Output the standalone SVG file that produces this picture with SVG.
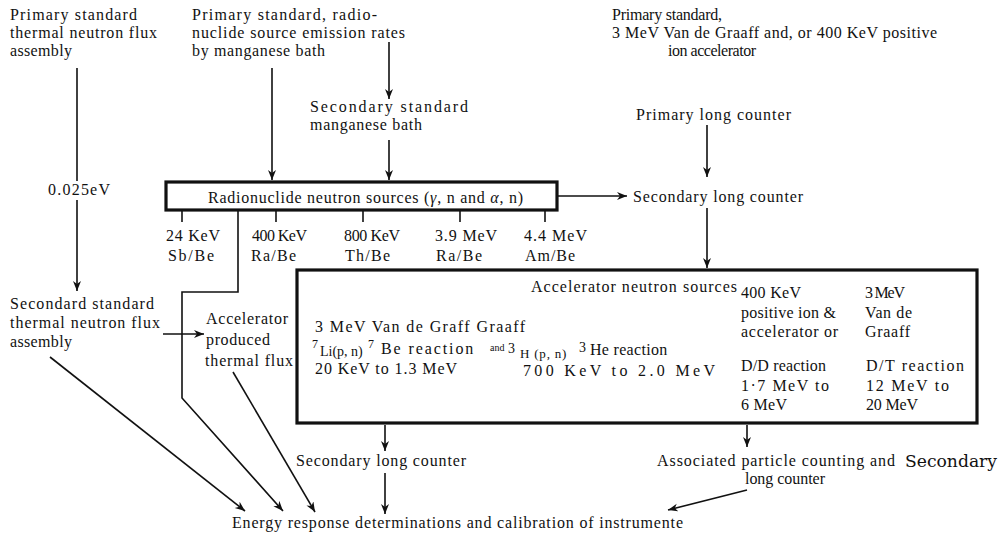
<svg xmlns="http://www.w3.org/2000/svg" width="1003" height="535" viewBox="0 0 1003 535">
<style>
text{font-family:'Liberation Serif','DejaVu Serif',serif;font-size:16px;fill:#111}
.ln{stroke:#111;stroke-width:1.6;fill:none}
.box{stroke:#111;stroke-width:3.2;fill:none}
.big{font-family:'DejaVu Serif',serif;font-size:16px}
.sup{font-size:12px}
</style>
<defs>
<marker id="ah" markerUnits="userSpaceOnUse" markerWidth="12" markerHeight="10" refX="10" refY="4" orient="auto">
<path d="M0,0 L10,4 L0,8 L3,4 Z" fill="#111"/>
</marker>
</defs>
<rect width="1003" height="535" fill="#fff"/>

<g id="connectors">
<line class="ln" x1="77" y1="68" x2="77" y2="181"/>
<line class="ln" x1="77" y1="200" x2="77" y2="291" marker-end="url(#ah)"/>
<line class="ln" x1="272" y1="68" x2="272" y2="180" marker-end="url(#ah)"/>
<line class="ln" x1="389" y1="42" x2="389" y2="99" marker-end="url(#ah)"/>
<line class="ln" x1="389" y1="140" x2="389" y2="180" marker-end="url(#ah)"/>
<line class="ln" x1="707" y1="125" x2="707" y2="177" marker-end="url(#ah)"/>
<line class="ln" x1="557" y1="196" x2="627" y2="196" marker-end="url(#ah)"/>
<line class="ln" x1="707" y1="208" x2="707" y2="268" marker-end="url(#ah)"/>
<line class="ln" x1="182" y1="211" x2="182" y2="222"/>
<line class="ln" x1="276" y1="211" x2="276" y2="222"/>
<line class="ln" x1="363" y1="211" x2="363" y2="222"/>
<line class="ln" x1="460" y1="211" x2="460" y2="222"/>
<line class="ln" x1="545" y1="211" x2="545" y2="222"/>
<polyline class="ln" points="238,211 238,292 182,292 182,398 283,511" marker-end="url(#ah)"/>
<line class="ln" x1="163" y1="334" x2="204" y2="334" marker-end="url(#ah)"/>
<line class="ln" x1="50" y1="357" x2="245" y2="511" marker-end="url(#ah)"/>
<line class="ln" x1="233" y1="372" x2="315" y2="512" marker-end="url(#ah)"/>
<line class="ln" x1="385" y1="425" x2="385" y2="451" marker-end="url(#ah)"/>
<line class="ln" x1="385" y1="473" x2="385" y2="514" marker-end="url(#ah)"/>
<line class="ln" x1="747" y1="425" x2="747" y2="447" marker-end="url(#ah)"/>
<line class="ln" x1="747" y1="490" x2="668" y2="510" marker-end="url(#ah)"/>
</g>

<g id="n-primary-thermal">
<text x="10" y="20" textLength="127" lengthAdjust="spacing">Primary standard</text>
<text x="10" y="38" textLength="147" lengthAdjust="spacing">thermal neutron flux</text>
<text x="10" y="56" textLength="62" lengthAdjust="spacing">assembly</text>
</g>

<g id="n-primary-radionuclide">
<text x="192" y="20" textLength="185" lengthAdjust="spacing">Primary standard, radio-</text>
<text x="192" y="38" textLength="213" lengthAdjust="spacing">nuclide source emission rates</text>
<text x="192" y="56" textLength="133" lengthAdjust="spacing">by manganese bath</text>
</g>

<g id="n-secondary-mn">
<text x="310" y="112" textLength="158" lengthAdjust="spacing">Secondary standard</text>
<text x="310" y="130" textLength="112" lengthAdjust="spacing">manganese bath</text>
</g>

<g id="n-primary-accel">
<text x="612" y="20" textLength="110" lengthAdjust="spacing">Primary standard,</text>
<text x="612" y="38" textLength="325" lengthAdjust="spacing">3 MeV Van de Graaff and, or 400 KeV positive</text>
<text x="668" y="56" textLength="88" lengthAdjust="spacing">ion  accelerator</text>
</g>

<g id="n-primary-long">
<text x="636" y="120" textLength="155" lengthAdjust="spacing">Primary long counter</text>
</g>

<g id="n-energy-label">
<text x="48" y="195" textLength="62" lengthAdjust="spacing">0.025eV</text>
</g>

<g id="n-radionuclide">
<rect class="box" x="166" y="182" width="391" height="28"/>
<text x="208" y="203" textLength="315" lengthAdjust="spacing">Radionuclide neutron sources (<tspan font-style="italic">γ</tspan>, n and <tspan font-style="italic">α</tspan>, n)</text>
</g>

<g id="n-secondary-long-1">
<text x="633" y="202" textLength="170" lengthAdjust="spacing">Secondary long counter</text>
</g>

<g id="n-sources">
<text x="166" y="241" textLength="54" lengthAdjust="spacing">24 KeV</text>
<text x="168" y="261" textLength="46" lengthAdjust="spacing">Sb/Be</text>
<text x="252" y="241" textLength="55" lengthAdjust="spacing">400 KeV</text>
<text x="251" y="261" textLength="45" lengthAdjust="spacing">Ra/Be</text>
<text x="344" y="241" textLength="56" lengthAdjust="spacing">800 KeV</text>
<text x="345" y="261" textLength="45" lengthAdjust="spacing">Th/Be</text>
<text x="435" y="241" textLength="62" lengthAdjust="spacing">3.9 MeV</text>
<text x="436" y="261" textLength="46" lengthAdjust="spacing">Ra/Be</text>
<text x="524" y="241" textLength="63" lengthAdjust="spacing">4.4 MeV</text>
<text x="525" y="261" textLength="50" lengthAdjust="spacing">Am/Be</text>
</g>

<g id="n-secondary-thermal">
<text x="10" y="309" textLength="144" lengthAdjust="spacing">Secondard standard</text>
<text x="10" y="328" textLength="150" lengthAdjust="spacing">thermal neutron flux</text>
<text x="10" y="347" textLength="62" lengthAdjust="spacing">assembly</text>
</g>

<g id="n-accel-thermal">
<text x="206" y="324" textLength="82" lengthAdjust="spacing">Accelerator</text>
<text x="206" y="345" textLength="64" lengthAdjust="spacing">produced</text>
<text x="205" y="366" textLength="88" lengthAdjust="spacing">thermal flux</text>
</g>

<g id="n-accel-sources">
<rect class="box" x="297" y="270" width="680" height="153"/>
<text x="531" y="292" textLength="206" lengthAdjust="spacing">Accelerator neutron sources</text>
<text x="315" y="332" textLength="210" lengthAdjust="spacing">3 MeV Van de Graff Graaff</text>
<text y="354"><tspan x="312" y="348" font-size="12">7</tspan><tspan x="320" y="356" font-size="14">Li(p, n)</tspan><tspan x="368" y="348" font-size="12">7</tspan><tspan x="381" y="354" letter-spacing="1.9">Be reaction</tspan></text>
<text x="315" y="374" textLength="142" lengthAdjust="spacing">20 KeV to 1.3 MeV</text>
<text y="354"><tspan x="490" y="351" font-size="10">and</tspan><tspan x="508" y="353" font-size="14">3</tspan><tspan x="520" y="358" font-size="13" letter-spacing="0.8">H (p, n)</tspan><tspan x="579" y="352" font-size="14">3</tspan><tspan x="590" y="355" letter-spacing="0.3">He reaction</tspan></text>
<text x="523" y="376" textLength="192" lengthAdjust="spacing">700 KeV to 2.0 MeV</text>
<text x="741" y="298" textLength="60" lengthAdjust="spacing">400 KeV</text>
<text x="741" y="318" textLength="95" lengthAdjust="spacing">positive ion &amp;</text>
<text x="741" y="337" textLength="97" lengthAdjust="spacing">accelerator or</text>
<text x="741" y="371" textLength="85" lengthAdjust="spacing">D/D reaction</text>
<text x="741" y="391" textLength="88" lengthAdjust="spacing">1·7 MeV  to</text>
<text x="741" y="410" textLength="46" lengthAdjust="spacing">6 MeV</text>
<text x="865" y="298" textLength="40" lengthAdjust="spacing">3 MeV</text>
<text x="865" y="318" textLength="47" lengthAdjust="spacing">Van de</text>
<text x="865" y="337" textLength="45" lengthAdjust="spacing">Graaff</text>
<text x="866" y="371" textLength="98" lengthAdjust="spacing">D/T reaction</text>
<text x="866" y="391" textLength="83" lengthAdjust="spacing">12 MeV  to</text>
<text x="866" y="410" textLength="52" lengthAdjust="spacing">20 MeV</text>
</g>

<g id="n-secondary-long-2">
<text x="296" y="466" textLength="170" lengthAdjust="spacing">Secondary long counter</text>
</g>

<g id="n-associated">
<text x="657" y="466" textLength="238" lengthAdjust="spacing">Associated particle counting and</text>
<text class="big" x="905" y="467" textLength="92" lengthAdjust="spacingAndGlyphs">Secondary</text>
<text x="745" y="484" textLength="80" lengthAdjust="spacing">long counter</text>
</g>

<g id="n-energy-response">
<text x="232" y="528" textLength="451" lengthAdjust="spacing">Energy response determinations and calibration of  instrumente</text>
</g>
</svg>
